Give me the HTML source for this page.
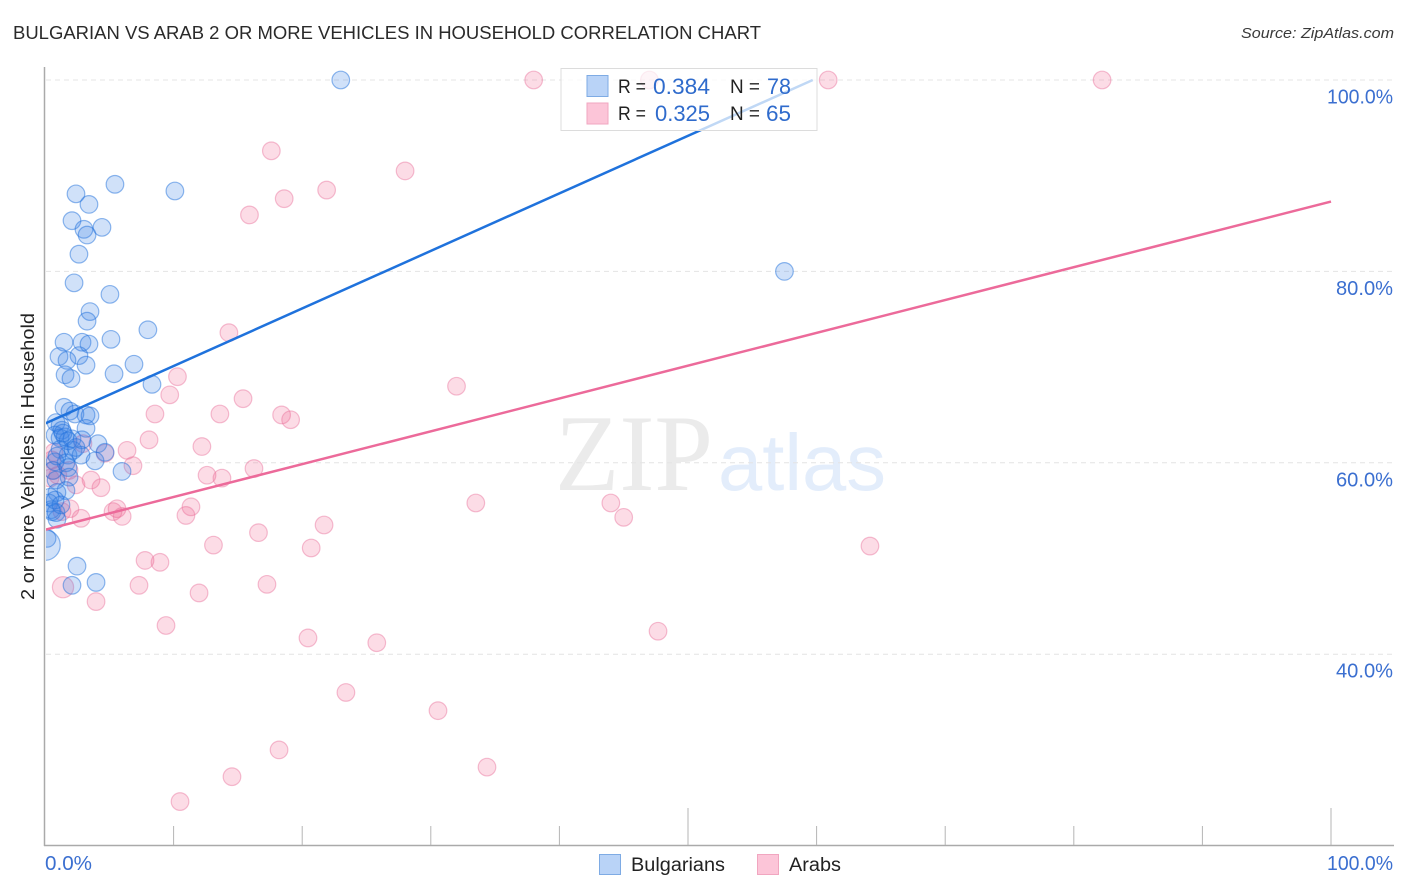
<!DOCTYPE html>
<html lang="en">
<head>
<meta charset="utf-8">
<title>Bulgarian vs Arab 2 or more Vehicles in Household Correlation Chart</title>
<style>
html,body{margin:0;padding:0;background:#fff;width:1406px;height:892px;overflow:hidden}
svg{display:block;font-family:"Liberation Sans",sans-serif}
</style>
</head>
<body>
<svg id="chart" xmlns="http://www.w3.org/2000/svg" width="1406" height="892" viewBox="0 0 1406 892">
  <defs>
    <clipPath id="plot-clip"><rect x="46" y="60" width="1348" height="785"/></clipPath>
  </defs>
  <rect x="0" y="0" width="1406" height="892" fill="#fff"/>
  <text x="13" y="39" font-size="18.5" fill="#2a2a2a" textLength="748" lengthAdjust="spacingAndGlyphs">BULGARIAN VS ARAB 2 OR MORE VEHICLES IN HOUSEHOLD CORRELATION CHART</text>
  <text x="1241" y="38" font-size="15" font-style="italic" fill="#3a3a3a" textLength="153" lengthAdjust="spacingAndGlyphs">Source: ZipAtlas.com</text>

  <g>
    <text x="555" y="490" font-family="'Liberation Serif',serif" font-size="109" fill="#ebebeb" textLength="158" lengthAdjust="spacingAndGlyphs">ZIP</text>
    <text x="718" y="490" font-size="80" fill="#e3edfb" textLength="168" lengthAdjust="spacingAndGlyphs">atlas</text>
  </g>

  <g id="grid"></g>
  <g id="axes"></g>
  <g id="marks" clip-path="url(#plot-clip)"></g>

  <g>
    <rect x="561" y="68.5" width="256" height="62" fill="#fff" fill-opacity="0.72" stroke="#dcdcdc" stroke-width="1"/>
    <rect x="587" y="75.5" width="21" height="21" fill="#b9d3f7" stroke="#7eabe4" stroke-width="1"/>
    <rect x="587" y="103" width="21" height="21" fill="#fcc5d8" stroke="#f1a6c0" stroke-width="1"/>
    <text x="618" y="93" font-size="19" fill="#222" textLength="28" lengthAdjust="spacingAndGlyphs">R =</text>
    <text x="653" y="94" font-size="22" fill="#2f6bcc" textLength="57" lengthAdjust="spacingAndGlyphs">0.384</text>
    <text x="730" y="93" font-size="19" fill="#222" textLength="30" lengthAdjust="spacingAndGlyphs">N =</text>
    <text x="767" y="94" font-size="22" fill="#2f6bcc" textLength="24" lengthAdjust="spacingAndGlyphs">78</text>
    <text x="618" y="120" font-size="19" fill="#222" textLength="28" lengthAdjust="spacingAndGlyphs">R =</text>
    <text x="655" y="121" font-size="22" fill="#2f6bcc" textLength="55" lengthAdjust="spacingAndGlyphs">0.325</text>
    <text x="730" y="120" font-size="19" fill="#222" textLength="30" lengthAdjust="spacingAndGlyphs">N =</text>
    <text x="766" y="121" font-size="22" fill="#2f6bcc" textLength="25" lengthAdjust="spacingAndGlyphs">65</text>
  </g>

  <text transform="translate(34 600) rotate(-90)" font-size="18.5" fill="#222" textLength="287" lengthAdjust="spacingAndGlyphs">2 or more Vehicles in Household</text>

  <g>
    <g>
      <rect x="599.5" y="854.5" width="21" height="20" fill="#b9d3f7" stroke="#7eabe4" stroke-width="1"/>
      <text x="631" y="871" font-size="19" fill="#222" textLength="94" lengthAdjust="spacingAndGlyphs">Bulgarians</text>
    </g>
    <g>
      <rect x="757.5" y="854.5" width="21" height="20" fill="#fcc5d8" stroke="#f1a6c0" stroke-width="1"/>
      <text x="789" y="871" font-size="19" fill="#222" textLength="52" lengthAdjust="spacingAndGlyphs">Arabs</text>
    </g>
  </g>
</svg>
<script>
const blueX = [23.0,10.1,5.44,2.41,3.42,2.1,3.03,4.43,3.27,2.64,2.26,5.05,3.5,3.27,8.0,1.48,2.88,5.13,3.42,1.09,2.64,1.71,3.19,6.92,5.37,1.56,2.02,8.32,1.48,1.94,2.33,3.19,3.5,0.86,1.17,0.78,1.32,3.19,1.17,1.56,2.1,2.88,4.12,1.17,2.18,1.79,2.8,4.67,1.63,0.78,3.89,0.62,1.79,5.99,1.87,0.86,1.63,0.93,0.39,0.31,0.47,0.86,0.93,57.5,0.16,0,2.49,2.1,3.97,0.54,1.24,0.78,1.79,0.93,2.41,1.4];
const blueY = [100,88.4,89.1,88.1,87.0,85.3,84.4,84.6,83.8,81.8,78.8,77.6,75.8,74.8,73.9,72.6,72.6,72.9,72.4,71.1,71.2,70.7,70.2,70.3,69.3,69.2,68.8,68.2,65.8,65.4,65.1,65.0,64.9,64.2,63.9,62.9,63.4,63.6,62.6,62.7,62.5,62.4,62.0,61.4,61.3,60.8,60.8,61.1,60.0,60.1,60.2,59.2,59.5,59.1,58.5,58.2,57.1,56.9,56.4,55.8,55.1,54.8,54.1,80.0,52.1,51.4,49.2,47.2,47.5,54.9,55.6,56.1,62.3,60.7,61.6,63.1];
const blueWeight = {65: 3};

const pinkX = [38.0,47.0,60.9,82.2,17.6,28.0,21.9,18.6,15.9,14.3,10.3,32.0,9.7,15.4,8.55,13.6,18.4,19.1,8.09,12.2,2.95,4.67,6.38,6.84,16.25,12.6,13.76,1.87,3.58,4.35,1.0,2.41,33.5,44.0,45.0,11.35,10.96,5.6,5.29,6.0,1.94,1.32,2.8,21.7,16.6,13.1,20.7,64.15,7.78,8.94,1.4,7.31,17.26,11.98,3.97,9.41,47.67,20.45,25.8,23.4,30.56,18.2,34.37,14.54,10.5,0.54,0.62,0.39,0.7];
const pinkY = [100,100,100,100,92.6,90.5,88.5,87.6,85.9,73.6,69.0,68.0,67.1,66.7,65.1,65.1,65.0,64.5,62.4,61.7,62.0,61.0,61.3,59.7,59.4,58.7,58.4,59.2,58.2,57.4,58.7,57.7,55.8,55.8,54.3,55.4,54.5,55.2,54.9,54.4,55.2,54.9,54.2,53.5,52.7,51.4,51.1,51.3,49.8,49.6,47.0,47.2,47.3,46.4,45.5,43.0,42.4,41.7,41.2,36.0,34.1,30.0,28.2,27.2,24.6,60.3,59.2,58.4,61.1];
const pinkWeight = {50: 1.45};

const blueTrendX = [0, 59.7];
const blueTrendY = [64.1, 100];
const pinkTrendX = [0, 100];
const pinkTrendY = [53.0, 87.3];

const yTickValues = [100, 80, 60, 40];
const yTickLabels = ["100.0%", "80.0%", "60.0%", "40.0%"];
const xTickValues = [10, 20, 30, 40, 50, 60, 70, 80, 90, 100];
const xMajorTicks = [50, 100];
const xEndValues = [0, 100];
const xEndLabels = ["0.0%", "100.0%"];

const SVG_NS = "http://www.w3.org/2000/svg";
const labelWidthByChars = {4: 47, 5: 57, 6: 66};
function xScale(v) { return 45 + v * 12.86; }
function yScale(v) { return 80 + (100 - v) * 9.57; }
function make(tag, parent, attrs) {
  const el = document.createElementNS(SVG_NS, tag);
  for (const key in attrs) el.setAttribute(key, attrs[key]);
  parent.appendChild(el);
  return el;
}

const gridLayer = document.getElementById("grid");
const axesLayer = document.getElementById("axes");
const marksLayer = document.getElementById("marks");

yTickValues.forEach(function (v, i) {
  const line = make("line", gridLayer, { x1: 46, x2: 1393, y1: yScale(v), y2: yScale(v), stroke: "#e4e4e4", "stroke-width": 1, "stroke-dasharray": "5 4" });
  
  
  const width = labelWidthByChars[yTickLabels[i].length];
  const label = make("text", axesLayer, { x: 1393 - width, y: yScale(v) + 23.5, "font-size": 20, fill: "#3b6fd0", textLength: width, lengthAdjust: "spacingAndGlyphs" });
  
  
  label.textContent = yTickLabels[i];
});

const yAxis = make("line", axesLayer, { x1: 44.5, x2: 44.5, y1: 67, y2: 846, stroke: "#aaa", "stroke-width": 1.5 });


const xAxis = make("line", axesLayer, { x1: 44, x2: 1394, y1: 845.5, y2: 845.5, stroke: "#aaa", "stroke-width": 1.5 });



xTickValues.forEach(function (v) {
  const top = xMajorTicks.indexOf(v) >= 0 ? 808 : 826;
  const tick = make("line", axesLayer, { x1: xScale(v), x2: xScale(v), y1: top, y2: 845, stroke: "#b5b5b5", "stroke-width": 1 });
  
  
});

xEndValues.forEach(function (v, i) {
  const width = labelWidthByChars[xEndLabels[i].length];
  const label = make("text", axesLayer, { x: i === 0 ? xScale(v) : 1393 - width, y: 870, "font-size": 20, fill: "#3b6fd0", textLength: width, lengthAdjust: "spacingAndGlyphs" });
  
  
  label.textContent = xEndLabels[i];
});

function drawPoints(xs, ys, weights, fill, stroke, fillOpacity, strokeOpacity) {
  xs.forEach(function (x, i) {
    const w = weights[i] || 1;
    const c = make("circle", marksLayer, {
      cx: xScale(x), cy: yScale(ys[i]), r: 8.8 * Math.sqrt(w),
      fill: fill, "fill-opacity": fillOpacity, stroke: stroke, "stroke-opacity": strokeOpacity, "stroke-width": 1.2
    });
    
    
  });
}
drawPoints(pinkX, pinkY, pinkWeight, "#f0608f", "#e8709c", 0.22, 0.45);
drawPoints(blueX, blueY, blueWeight, "#3a83e8", "#2272dc", 0.24, 0.5);

const blueTrend = make("line", marksLayer, {
  x1: xScale(blueTrendX[0]), y1: yScale(blueTrendY[0]), x2: xScale(blueTrendX[1]), y2: yScale(blueTrendY[1]),
  stroke: "#1f72dc", "stroke-width": 2.5
});


const pinkTrend = make("line", marksLayer, {
  x1: xScale(pinkTrendX[0]), y1: yScale(pinkTrendY[0]), x2: xScale(pinkTrendX[1]), y2: yScale(pinkTrendY[1]),
  stroke: "#ec6a9a", "stroke-width": 2.5
});


</script>
</body>
</html>
